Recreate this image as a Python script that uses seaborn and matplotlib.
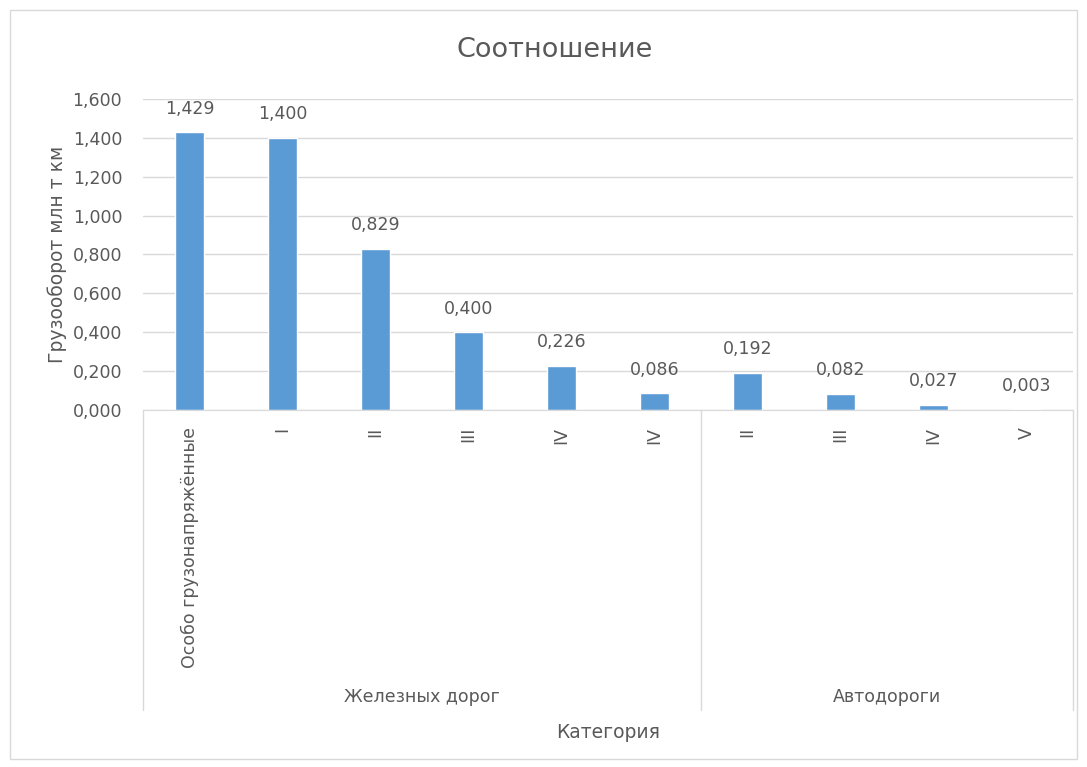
import numpy as np
import pandas as pd
import matplotlib
matplotlib.use('Agg')
import matplotlib.pyplot as plt
import matplotlib.transforms as mtransforms
from matplotlib.patches import Rectangle
import seaborn as sns

# data
categories = ['Особо грузонапряжённые', 'I', 'II', 'III', 'IV', 'IV',
              'II', 'III', 'IV', 'V']
groups = ['Железных дорог'] * 6 + ['Автодороги'] * 4
values = [1.429, 1.400, 0.829, 0.400, 0.226, 0.086, 0.192, 0.082, 0.027, 0.003]
group_names = ['Железных дорог', 'Автодороги']

df = pd.DataFrame({'pos': [str(i) for i in range(len(values))],
                   'label': categories, 'group': groups, 'value': values})

sns.set_style('white')
plt.rcParams['font.family'] = ['DejaVu Sans']
txt = '#595959'
grid = '#D9D9D9'
fs = 12.5

fig = plt.figure(figsize=(10.87, 7.67), dpi=100)
W, H = 1087, 767
ax = fig.add_axes([143 / W, 1 - 410 / H, (1073 - 143) / W, (410 - 99) / H])

sns.barplot(data=df, x='pos', y='value', color='#5B9BD5', width=0.32,
            saturation=1, ax=ax, order=df['pos'])

ax.set_ylim(0, 1.6)
ax.set_xlim(-0.5, len(values) - 0.5)
yt = np.arange(0, 1.61, 0.2)
ax.set_yticks(yt)
ax.set_yticklabels([f'{v:.3f}'.replace('.', ',') for v in yt], color=txt, fontsize=fs)
ax.yaxis.grid(True, color=grid, lw=1)
ax.set_axisbelow(True)
for s in ['left', 'right', 'top']:
    ax.spines[s].set_visible(False)
ax.spines['bottom'].set_color(grid)
ax.tick_params(axis='y', length=0, pad=15)
ax.tick_params(axis='x', length=0, pad=12)
ax.set_xticks(range(len(values)))
ax.set_xticklabels(categories, rotation=90, va='top', ha='center',
                   color=txt, fontsize=fs)
ax.set_xlabel('')
ax.set_ylabel('Грузооборот млн т км', color=txt, fontsize=13.5, labelpad=4)

for i, v in enumerate(values):
    ax.text(i, v + 0.075, f'{v:.3f}'.replace('.', ','), ha='center', va='bottom',
            color=txt, fontsize=fs)

# multi-level category separators
tr = mtransforms.blended_transform_factory(ax.transData, ax.transAxes)
bottom = -(710 - 410) / (410 - 99)
for xb in [-0.5, 5.5, 9.5]:
    ax.plot([xb, xb], [0, bottom], color=grid, lw=1, transform=tr, clip_on=False)
ax.text(2.5, -(697 - 410) / (410 - 99), group_names[0], transform=tr,
        ha='center', va='center', color=txt, fontsize=fs)
ax.text(7.5, -(697 - 410) / (410 - 99), group_names[1], transform=tr,
        ha='center', va='center', color=txt, fontsize=fs)

fig.text(608 / W, 1 - 732 / H, 'Категория', ha='center', va='center',
         color=txt, fontsize=13.5)
fig.text(555 / W, 1 - 50 / H, 'Соотношение', ha='center',
         va='center', color=txt, fontsize=19.5)

fig.patches.append(Rectangle((10 / W, 8 / H), 1 - 20 / W, 1 - 18 / H,
                             transform=fig.transFigure, fill=False,
                             edgecolor=grid, lw=1))

fig.savefig('out.png', dpi=100)
